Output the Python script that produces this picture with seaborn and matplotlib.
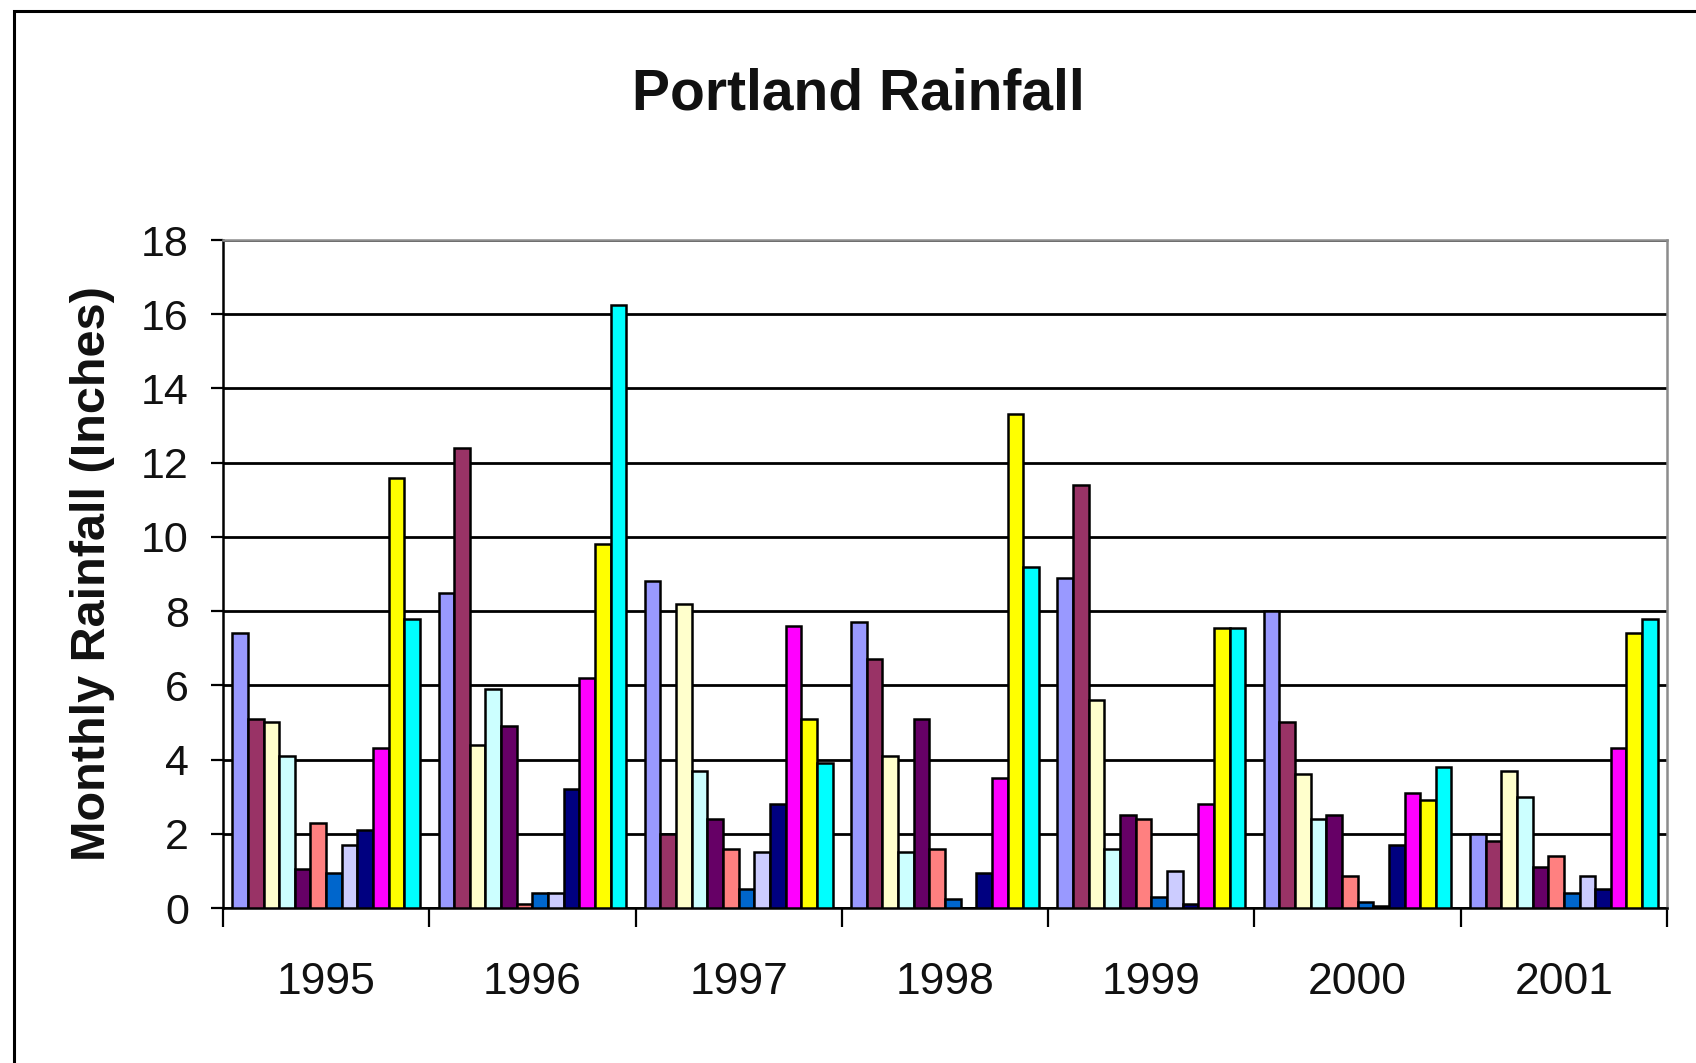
import numpy as np
import pandas as pd
import matplotlib
matplotlib.use("Agg")
import matplotlib.pyplot as plt
from matplotlib.patches import Rectangle
import seaborn as sns

# Monthly rainfall (inches) for Portland, one list per year
years = ["1995", "1996", "1997", "1998", "1999", "2000", "2001"]
months = ["Jan", "Feb", "Mar", "Apr", "May", "Jun",
          "Jul", "Aug", "Sep", "Oct", "Nov", "Dec"]
rain_1995 = [7.4, 5.1, 5.0, 4.1, 1.05, 2.3, 0.95, 1.7, 2.1, 4.3, 11.6, 7.8]
rain_1996 = [8.5, 12.4, 4.4, 5.9, 4.9, 0.1, 0.4, 0.4, 3.2, 6.2, 9.8, 16.25]
rain_1997 = [8.8, 2.0, 8.2, 3.7, 2.4, 1.6, 0.5, 1.5, 2.8, 7.6, 5.1, 3.9]
rain_1998 = [7.7, 6.7, 4.1, 1.5, 5.1, 1.6, 0.25, 0.0, 0.95, 3.5, 13.3, 9.2]
rain_1999 = [8.9, 11.4, 5.6, 1.6, 2.5, 2.4, 0.3, 1.0, 0.1, 2.8, 7.55, 7.55]
rain_2000 = [8.0, 5.0, 3.6, 2.4, 2.5, 0.85, 0.15, 0.05, 1.7, 3.1, 2.9, 3.8]
rain_2001 = [2.0, 1.8, 3.7, 3.0, 1.1, 1.4, 0.4, 0.85, 0.5, 4.3, 7.4, 7.8]
yticks = list(range(0, 19, 2))

# Classic spreadsheet series palette
month_colors = ["#9999FF", "#993366", "#FFFFCC", "#CCFFFF", "#660066", "#FF8080",
                "#0066CC", "#CCCCFF", "#000080", "#FF00FF", "#FFFF00", "#00FFFF"]

by_year = [rain_1995, rain_1996, rain_1997, rain_1998, rain_1999, rain_2000, rain_2001]
rows = []
for yr, vals in zip(years, by_year):
    for m, v in zip(months, vals):
        rows.append({"Year": yr, "Month": m, "Rain": v})
df = pd.DataFrame(rows)

sns.set_theme(style="white")
plt.rcParams["font.family"] = ["Liberation Sans", "DejaVu Sans"]

W, H = 1696, 1063
fig = plt.figure(figsize=(W / 100, H / 100), dpi=100)
ax = fig.add_axes([223 / W, 1 - 908 / H, 1444 / W, 668 / H])

sns.barplot(data=df, x="Year", y="Rain", hue="Month", order=years, hue_order=months,
            palette=month_colors, saturation=1, width=0.91, errorbar=None,
            edgecolor="black", linewidth=1.8, legend=False, ax=ax, zorder=3)

ax.set_xlim(-0.5, len(years) - 0.5)
ax.set_ylim(0, 18)
ax.set_yticks(yticks)
ax.set_yticklabels([str(t) for t in yticks])
ax.yaxis.grid(True, color="black", linewidth=2.0, zorder=0)
ax.set_axisbelow(True)

# Year labels at the group centers, tick marks on the group boundaries
ax.set_xticks(range(len(years)))
ax.set_xticklabels(years)
ax.set_xticks(np.arange(-0.5, len(years), 1.0), minor=True)
ax.tick_params(axis="x", which="major", length=0, pad=39, labelsize=32, colors="black")
ax.tick_params(axis="x", which="minor", length=13.5, width=1.6, direction="out",
               color="black", bottom=True)
ax.tick_params(axis="y", which="major", length=8.6, width=1.6, direction="out",
               pad=16, labelsize=31, color="black", left=True)
for lbl in ax.get_xticklabels() + ax.get_yticklabels():
    lbl.set_color("#111111")

ax.set_xlabel("")
ax.set_ylabel("Monthly Rainfall (Inches)", fontsize=35, fontweight="bold", color="#111111")
ax.yaxis.label.set_va("center")
ax.yaxis.set_label_coords(-0.0907, 0.5)

for side in ["left", "bottom"]:
    ax.spines[side].set_color("black")
    ax.spines[side].set_linewidth(1.8)
for side in ["top", "right"]:
    ax.spines[side].set_visible(True)
    ax.spines[side].set_color("#8c8c8c")
    ax.spines[side].set_linewidth(1.8)

fig.text(858 / W, 1 - 110 / H, "Portland Rainfall", ha="center", va="baseline",
         fontsize=41, fontweight="bold", color="#111111")

# Chart area frame (runs off the right and bottom edges)
fig.add_artist(Rectangle((14 / W, -0.2), 1.3, 1.2 - 11 / H, transform=fig.transFigure,
                         fill=False, edgecolor="black", linewidth=2.2, clip_on=False))

fig.savefig("out.png", dpi=100, facecolor="white")
